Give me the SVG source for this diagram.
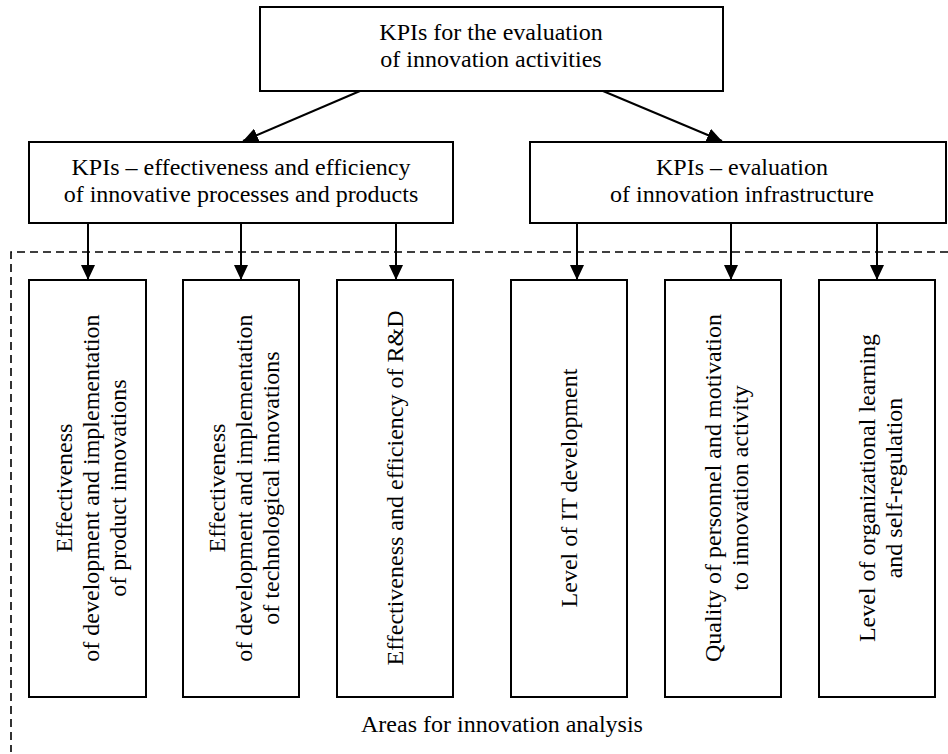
<svg xmlns="http://www.w3.org/2000/svg" width="948" height="754" viewBox="0 0 948 754">
<style>
.box{fill:#fff;stroke:#000;stroke-width:2}
.t{font-family:"Liberation Serif","Times New Roman",serif;font-size:24px;fill:#000;text-anchor:middle}
.con{stroke:#000;stroke-width:2;fill:none}
.dash{stroke:#000;stroke-width:1.6;fill:none;stroke-dasharray:8 5}
</style>
<defs>
<marker id="ah" markerUnits="userSpaceOnUse" markerWidth="16" markerHeight="14" refX="15" refY="7" orient="auto">
<path d="M0,0 L15,7 L0,14 Z" fill="#000"/>
</marker>
</defs>
<rect width="948" height="754" fill="#fff"/>
<g id="area">
<path class="dash" d="M948,252 H11 V752"/>
<text class="t" x="502" y="732">Areas for innovation analysis</text>
</g>
<g id="connectors">
<line class="con" x1="360" y1="91" x2="243" y2="141" marker-end="url(#ah)"/>
<line class="con" x1="603" y1="91" x2="722" y2="141" marker-end="url(#ah)"/>
<line class="con" x1="88" y1="223" x2="88" y2="280" marker-end="url(#ah)"/>
<line class="con" x1="241" y1="223" x2="241" y2="280" marker-end="url(#ah)"/>
<line class="con" x1="396" y1="223" x2="396" y2="280" marker-end="url(#ah)"/>
<line class="con" x1="577" y1="223" x2="577" y2="280" marker-end="url(#ah)"/>
<line class="con" x1="731" y1="223" x2="731" y2="280" marker-end="url(#ah)"/>
<line class="con" x1="877" y1="223" x2="877" y2="280" marker-end="url(#ah)"/>
</g>
<g id="top">
<rect class="box" x="260" y="7" width="463" height="84"/>
<text class="t" x="491" y="40">KPIs for the evaluation</text>
<text class="t" x="491" y="67">of innovation activities</text>
</g>
<g id="midLeft">
<rect class="box" x="29" y="142" width="424" height="81"/>
<text class="t" x="241" y="175">KPIs – effectiveness and efficiency</text>
<text class="t" x="241" y="202">of innovative processes and products</text>
</g>
<g id="midRight">
<rect class="box" x="530" y="142" width="416" height="81"/>
<text class="t" x="742" y="175">KPIs – evaluation</text>
<text class="t" x="742" y="202">of innovation infrastructure</text>
</g>
<g id="b1">
<rect class="box" x="29" y="280" width="117" height="417"/>
<text class="t" transform="translate(71.5,488) rotate(-90)">Effectiveness</text>
<text class="t" transform="translate(98.5,488) rotate(-90)">of development and implementation</text>
<text class="t" transform="translate(125.5,488) rotate(-90)">of product innovations</text>
</g>
<g id="b2">
<rect class="box" x="183" y="280" width="116" height="417"/>
<text class="t" transform="translate(225,488) rotate(-90)">Effectiveness</text>
<text class="t" transform="translate(252,488) rotate(-90)">of development and implementation</text>
<text class="t" transform="translate(279,488) rotate(-90)">of technological innovations</text>
</g>
<g id="b3">
<rect class="box" x="337" y="280" width="116" height="417"/>
<text class="t" transform="translate(403,488) rotate(-90)">Effectiveness and efficiency of R&amp;D</text>
</g>
<g id="b4">
<rect class="box" x="511" y="280" width="116" height="417"/>
<text class="t" transform="translate(577,488) rotate(-90)">Level of IT development</text>
</g>
<g id="b5">
<rect class="box" x="665" y="280" width="116" height="417"/>
<text class="t" transform="translate(721,488) rotate(-90)">Quality of personnel and motivation</text>
<text class="t" transform="translate(748,488) rotate(-90)">to innovation activity</text>
</g>
<g id="b6">
<rect class="box" x="819" y="280" width="116" height="417"/>
<text class="t" transform="translate(875,488) rotate(-90)">Level of organizational learning</text>
<text class="t" transform="translate(902,488) rotate(-90)">and self-regulation</text>
</g>
</svg>
